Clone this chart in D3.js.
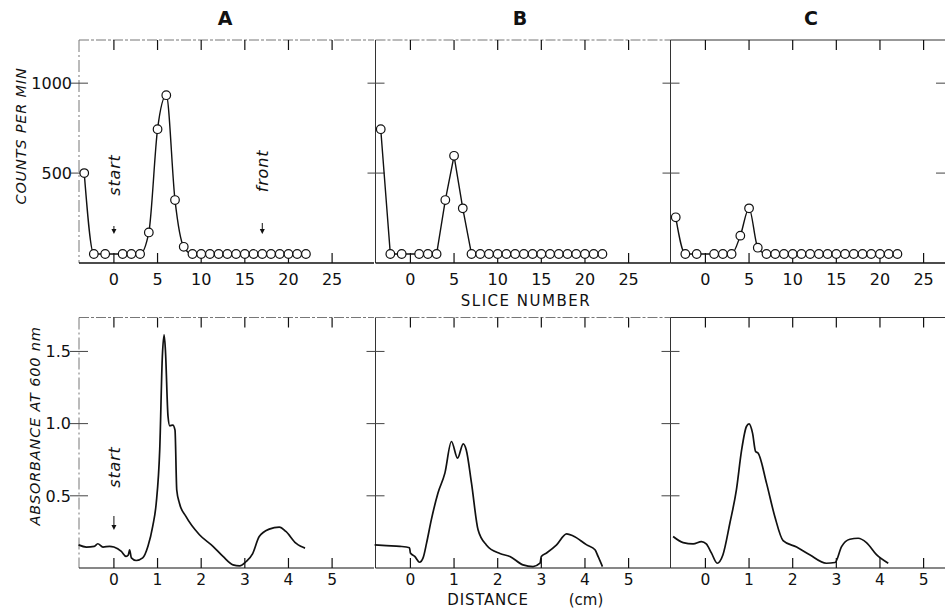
<!DOCTYPE html>
<html>
<head>
<meta charset="utf-8">
<script src="https://cdn.jsdelivr.net/npm/d3@7"></script>
<style>
  html, body { margin: 0; padding: 0; background: #fff; }
  svg { display: block; }
  text { font-family: "DejaVu Sans", "Liberation Sans", sans-serif; fill: #111; }
</style>
</head>
<body>
<svg id="chart" width="945" height="610"></svg>
<script>
// ---------- DATA ----------
const panelNames = ["A", "B", "C"];

// top row: counts per min vs slice number
const sliceNumbers = [-3.4, -2.3, -1, 1, 2, 3, 4, 5, 6, 7, 8, 9, 10, 11, 12, 13, 14, 15, 16, 17, 18, 19, 20, 21, 22];
const countsA = [500, 50, 50, 50, 50, 50, 170, 744, 933, 350, 90, 50, 50, 50, 50, 50, 50, 50, 50, 50, 50, 50, 50, 50, 50];
const countsB = [744, 50, 50, 50, 50, 50, 350, 596, 304, 50, 50, 50, 50, 50, 50, 50, 50, 50, 50, 50, 50, 50, 50, 50, 50];
const countsC = [254, 50, 50, 50, 50, 50, 152, 304, 85, 50, 50, 50, 50, 50, 50, 50, 50, 50, 50, 50, 50, 50, 50, 50, 50];
const countTicks = [500, 1000];
const sliceTicks = [0, 5, 10, 15, 20, 25];

// bottom row: absorbance at 600 nm vs distance (cm)
const distA = [-0.81, -0.63, -0.45, -0.37, -0.25, -0.1, 0, 0.17, 0.28, 0.33, 0.36, 0.4, 0.51, 0.66, 0.78, 0.89, 0.97, 1.05, 1.11, 1.15, 1.18, 1.24, 1.28, 1.35, 1.4, 1.44, 1.5, 1.65, 1.96, 2.27, 2.5, 2.73, 2.88, 3.03, 3.18, 3.33, 3.56, 3.79, 3.94, 4.17, 4.28, 4.38];
const absA  = [0.16, 0.145, 0.15, 0.168, 0.145, 0.15, 0.145, 0.115, 0.08, 0.09, 0.126, 0.07, 0.052, 0.07, 0.15, 0.29, 0.45, 0.82, 1.465, 1.615, 1.51, 1.05, 0.985, 0.99, 0.955, 0.54, 0.45, 0.357, 0.23, 0.15, 0.08, 0.022, 0.015, 0.045, 0.1, 0.218, 0.269, 0.283, 0.253, 0.172, 0.15, 0.138];

const distB = [-0.82, -0.55, -0.24, -0.02, 0, 0.1, 0.21, 0.29, 0.37, 0.48, 0.63, 0.79, 0.94, 1.08, 1.21, 1.28, 1.4, 1.55, 1.74, 2.05, 2.28, 2.58, 2.81, 2.97, 3.0, 3.12, 3.35, 3.58, 3.73, 4.04, 4.23, 4.3, 4.4];
const absB  = [0.16, 0.155, 0.15, 0.14, 0.104, 0.08, 0.04, 0.07, 0.172, 0.335, 0.518, 0.657, 0.876, 0.761, 0.86, 0.818, 0.588, 0.265, 0.16, 0.1, 0.08, 0.022, 0.01, 0.033, 0.08, 0.104, 0.16, 0.236, 0.222, 0.16, 0.126, 0.08, 0.01];

const distC = [-0.74, -0.51, -0.28, -0.09, 0.02, 0.14, 0.27, 0.4, 0.56, 0.71, 0.83, 0.94, 1.0, 1.08, 1.15, 1.21, 1.4, 1.59, 1.78, 2.09, 2.39, 2.77, 2.97, 3.12, 3.31, 3.5, 3.69, 3.92, 4.19];
const absC  = [0.218, 0.176, 0.167, 0.183, 0.167, 0.103, 0.033, 0.09, 0.31, 0.541, 0.818, 0.98, 0.998, 0.934, 0.807, 0.795, 0.588, 0.357, 0.19, 0.145, 0.092, 0.033, 0.038, 0.148, 0.199, 0.206, 0.176, 0.092, 0.033];

const absTicks = [0.5, 1.0, 1.5];
const distTicks = [0, 1, 2, 3, 4, 5];

const countsSeries = [countsA, countsB, countsC];
const distSeries = [distA, distB, distC];
const absSeries = [absA, absB, absC];

// ---------- LAYOUT ----------
const svg = d3.select("#chart");
const panelLeft = [79, 375.5, 670.5];
const panelW = 295;
const titleX = [225, 520, 811];

const yTop = d3.scaleLinear().domain([0, 1240]).range([263, 40]);
const yBot = d3.scaleLinear().domain([0, 1.735]).range([568, 317.5]);

const topCurves = [d3.curveMonotoneX, d3.curveLinear, d3.curveMonotoneX];

const frameGrey = "#777";
const dark = "#111";

panelNames.forEach((name, i) => {
  const L = panelLeft[i];
  const xTop = d3.scaleLinear().domain([-4, 29.8]).range([L, L + panelW]);
  const xBot = d3.scaleLinear().domain([-0.8, 5.96]).range([L, L + panelW]);
  const g = svg.append("g");

  // title
  g.append("text").attr("x", titleX[i]).attr("y", 25)
    .attr("text-anchor", "middle").attr("font-size", 19).attr("font-weight", "bold")
    .text(name);

  // ---------- TOP PANEL ----------
  const R = i === 2 ? 945 : L + panelW;
  g.append("line").attr("x1", L).attr("x2", R).attr("y1", yTop.range()[1]).attr("y2", yTop.range()[1])
    .attr("stroke", i === 2 ? "#333" : frameGrey).attr("stroke-width", 1)
    .attr("stroke-dasharray", i === 2 ? null : "10,2,3,2");
  g.append("line").attr("x1", L).attr("x2", L).attr("y1", yTop.range()[1]).attr("y2", yTop.range()[0])
    .attr("stroke", i === 0 ? frameGrey : "#333").attr("stroke-width", 1)
    .attr("stroke-dasharray", i === 0 ? "12,3,2,3" : null);
  g.append("line").attr("x1", L).attr("x2", R).attr("y1", yTop(0)).attr("y2", yTop(0))
    .attr("stroke", dark).attr("stroke-width", 1.3);

  sliceTicks.forEach(t => {
    g.append("line").attr("x1", xTop(t)).attr("x2", xTop(t))
      .attr("y1", yTop.range()[1]).attr("y2", yTop.range()[1] + 10)
      .attr("stroke", dark).attr("stroke-width", 1.2);
    g.append("line").attr("x1", xTop(t)).attr("x2", xTop(t))
      .attr("y1", yTop(0)).attr("y2", yTop(0) - 10)
      .attr("stroke", dark).attr("stroke-width", 1.2);
    g.append("text").attr("x", xTop(t)).attr("y", 285)
      .attr("text-anchor", "middle").attr("font-size", 16).text(t);
  });
  countTicks.forEach(t => {
    g.append("line").attr("x1", L - 8).attr("x2", L + 9).attr("y1", yTop(t)).attr("y2", yTop(t))
      .attr("stroke", "#444").attr("stroke-width", 1);
    if (i === 0) {
      g.append("text").attr("x", L - 7).attr("y", yTop(t)).attr("dy", "0.36em")
        .attr("text-anchor", "end").attr("font-size", 16).text(t);
    }
    if (i === 2) {
      g.append("line").attr("x1", 936).attr("x2", 945).attr("y1", yTop(t)).attr("y2", yTop(t))
        .attr("stroke", "#444").attr("stroke-width", 1);
    }
  });

  const pts = sliceNumbers.map((s, k) => ({ x: s, y: countsSeries[i][k] }));
  g.append("path").datum(pts)
    .attr("d", d3.line().x(d => xTop(d.x)).y(d => yTop(d.y)).curve(topCurves[i]))
    .attr("fill", "none").attr("stroke", dark).attr("stroke-width", 1.4);
  g.selectAll("circle.pt").data(pts).enter().append("circle")
    .attr("cx", d => xTop(d.x)).attr("cy", d => yTop(d.y)).attr("r", 4.3)
    .attr("fill", "#fff").attr("stroke", dark).attr("stroke-width", 1.2);

  // ---------- BOTTOM PANEL ----------
  g.append("line").attr("x1", L).attr("x2", R).attr("y1", yBot.range()[1]).attr("y2", yBot.range()[1])
    .attr("stroke", i === 2 ? "#333" : frameGrey).attr("stroke-width", 1)
    .attr("stroke-dasharray", i === 2 ? null : "10,2,3,2");
  g.append("line").attr("x1", L).attr("x2", L).attr("y1", yBot.range()[1]).attr("y2", yBot(0))
    .attr("stroke", i === 0 ? frameGrey : "#333").attr("stroke-width", 1)
    .attr("stroke-dasharray", i === 0 ? "12,3,2,3" : null);
  g.append("line").attr("x1", L).attr("x2", R).attr("y1", yBot(0)).attr("y2", yBot(0))
    .attr("stroke", dark).attr("stroke-width", 1.2);

  distTicks.forEach(t => {
    g.append("line").attr("x1", xBot(t)).attr("x2", xBot(t))
      .attr("y1", yBot.range()[1]).attr("y2", yBot.range()[1] + 10)
      .attr("stroke", dark).attr("stroke-width", 1.2);
    g.append("line").attr("x1", xBot(t)).attr("x2", xBot(t))
      .attr("y1", yBot(0)).attr("y2", yBot(0) - 10)
      .attr("stroke", dark).attr("stroke-width", 1.2);
    g.append("text").attr("x", xBot(t)).attr("y", 585)
      .attr("text-anchor", "middle").attr("font-size", 15.5).text(t);
  });
  absTicks.forEach(t => {
    g.append("line").attr("x1", L - 9).attr("x2", L + 9).attr("y1", yBot(t)).attr("y2", yBot(t))
      .attr("stroke", "#444").attr("stroke-width", 1);
    if (i === 0) {
      g.append("text").attr("x", L - 8).attr("y", yBot(t)).attr("dy", "0.36em")
        .attr("text-anchor", "end").attr("font-size", 16).text(d3.format(".1f")(t));
    }
  });

  const bpts = distSeries[i].map((d, k) => ({ x: d, y: absSeries[i][k] }));
  g.append("path").datum(bpts)
    .attr("d", d3.line().x(d => xBot(d.x)).y(d => yBot(d.y)).curve(d3.curveMonotoneX))
    .attr("fill", "none").attr("stroke", dark).attr("stroke-width", 1.7)
    .attr("stroke-linejoin", "round");

  if (i === 0) {
    const arrow = (x, y1, y2) => {
      g.append("line").attr("x1", x).attr("x2", x).attr("y1", y1).attr("y2", y2 - 3)
        .attr("stroke", dark).attr("stroke-width", 1);
      g.append("path").attr("d", `M${x - 2.5},${y2 - 5}L${x + 2.5},${y2 - 5}L${x},${y2}Z`).attr("fill", dark);
    };
    const rotText = (x, y, s) => {
      g.append("text").attr("transform", `translate(${x},${y}) rotate(-90)`)
        .attr("text-anchor", "middle").attr("font-size", 16).attr("font-style", "italic")
        .attr("letter-spacing", 0.8).text(s);
    };
    rotText(xTop(0) + 6, 175, "start");
    arrow(xTop(0), 226, 234);
    rotText(xTop(17) + 6, 171, "front");
    arrow(xTop(17), 223, 234);
    rotText(xBot(0) + 6, 467, "start");
    arrow(xBot(0), 516, 530);
  }
});

// axis titles
svg.append("text").attr("transform", "translate(26,136) rotate(-90)")
  .attr("text-anchor", "middle").attr("font-size", 14.5).attr("font-style", "italic")
  .attr("letter-spacing", 0.8).text("COUNTS PER MIN");
svg.append("text").attr("transform", "translate(40,426) rotate(-90)")
  .attr("text-anchor", "middle").attr("font-size", 14.5).attr("font-style", "italic")
  .attr("letter-spacing", 0.8).text("ABSORBANCE  AT 600 nm");
svg.append("text").attr("x", 526).attr("y", 306)
  .attr("text-anchor", "middle").attr("font-size", 15).attr("letter-spacing", 1.5)
  .text("SLICE  NUMBER");
svg.append("text").attr("x", 488).attr("y", 605)
  .attr("text-anchor", "middle").attr("font-size", 15).attr("letter-spacing", 0.8)
  .text("DISTANCE");
svg.append("text").attr("x", 586).attr("y", 605)
  .attr("text-anchor", "middle").attr("font-size", 15)
  .text("(cm)");
</script>
</body>
</html>
